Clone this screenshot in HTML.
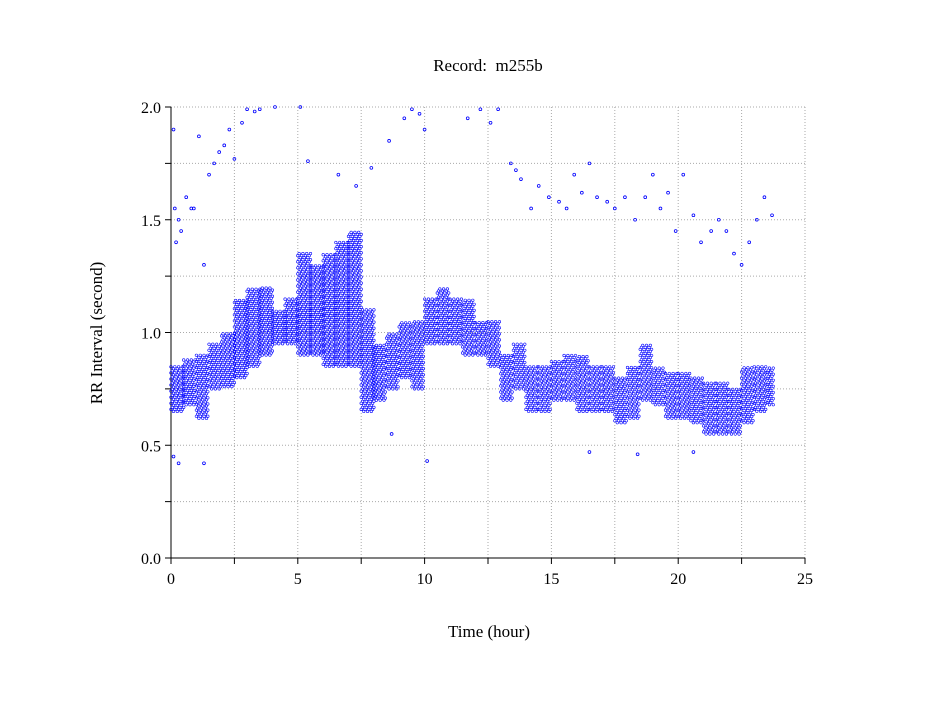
<!DOCTYPE html>
<html><head><meta charset="utf-8"><style>
html,body{margin:0;padding:0;background:#fff;}
svg text{font-family:"Liberation Serif",serif;fill:#000;}
</style></head><body>
<svg id="chart" width="949" height="697" xmlns="http://www.w3.org/2000/svg">
<rect width="949" height="697" fill="#fff"/>
<text x="488" y="71" font-size="17" text-anchor="middle">Record:&#160; m255b</text>
<text x="489" y="637" font-size="17" text-anchor="middle">Time (hour)</text>
<text x="0" y="0" font-size="17" text-anchor="middle" transform="translate(102,333) rotate(-90)">RR Interval (second)</text>
<g id="grid"></g>
<g id="axes"></g>
<path id="band" fill="none" stroke="#0000ff" stroke-width="0.6"/>
<g id="outliers"></g>
</svg>
<script>
// bins of 0.5 hour: start time, low and high RR values
const binStarts = [0,0.5,1,1.5,2,2.5,3,3.5,4,4.5,5,5.5,6,6.5,7,7.5,8,8.5,9,9.5,10,10.5,11,11.5,12,12.5,13,13.5,14,14.5,15,15.5,16,16.5,17,17.5,18,18.5,19,19.5,20,20.5,21,21.5,22,22.5,23,23.5];
const binLow  = [0.65,0.68,0.62,0.75,0.76,0.8,0.85,0.9,0.95,0.95,0.9,0.9,0.85,0.85,0.85,0.65,0.7,0.75,0.8,0.75,0.95,0.95,0.95,0.9,0.9,0.85,0.7,0.75,0.65,0.65,0.7,0.7,0.65,0.65,0.65,0.6,0.62,0.7,0.68,0.62,0.62,0.6,0.55,0.55,0.55,0.6,0.65,0.68];
const binHigh = [0.85,0.88,0.9,0.95,1.0,1.15,1.2,1.2,1.1,1.15,1.35,1.3,1.35,1.4,1.45,1.1,0.95,1.0,1.05,1.05,1.15,1.2,1.15,1.15,1.05,1.05,0.9,0.95,0.85,0.85,0.88,0.9,0.9,0.85,0.85,0.8,0.85,0.95,0.85,0.82,0.82,0.8,0.78,0.78,0.75,0.85,0.85,0.85];
const outT = [0.1,0.15,0.2,0.3,0.4,0.6,0.8,0.9,1.1,1.3,1.5,1.7,1.9,2.1,2.3,2.5,2.8,3.0,3.3,3.5,4.1,5.1,5.4,6.6,7.3,7.9,8.6,9.2,9.5,9.8,10.0,11.7,12.2,12.6,12.9,13.4,13.6,13.8,14.2,14.5,14.9,15.3,15.6,15.9,16.2,16.5,16.8,17.2,17.5,17.9,18.3,18.7,19.0,19.3,19.6,19.9,20.2,20.6,20.9,21.3,21.6,21.9,22.2,22.5,22.8,23.1,23.4,23.7,0.1,0.3,1.3,10.1,8.7,16.5,18.4,20.6];
const outV = [1.9,1.55,1.4,1.5,1.45,1.6,1.55,1.55,1.87,1.3,1.7,1.75,1.8,1.83,1.9,1.77,1.93,1.99,1.98,1.99,2.0,2.0,1.76,1.7,1.65,1.73,1.85,1.95,1.99,1.97,1.9,1.95,1.99,1.93,1.99,1.75,1.72,1.68,1.55,1.65,1.6,1.58,1.55,1.7,1.62,1.75,1.6,1.58,1.55,1.6,1.5,1.6,1.7,1.55,1.62,1.45,1.7,1.52,1.4,1.45,1.5,1.45,1.35,1.3,1.4,1.5,1.6,1.52,0.45,0.42,0.42,0.43,0.55,0.47,0.46,0.47];
const xTicks=[0,5,10,15,20,25], yTicks=[0.0,0.5,1.0,1.5,2.0];
const X0=171,X1=805,Y0=558,Y1=107;
const xs=t=>X0+(X1-X0)*t/25, ys=v=>Y0-(Y0-Y1)*v/2;
const NS="http://www.w3.org/2000/svg";
function mk(tag,attrs,parent){const e=document.createElementNS(NS,tag);for(const k in attrs)e.setAttribute(k,attrs[k]);parent.appendChild(e);return e;}
const grid=document.getElementById('grid'), axes=document.getElementById('axes');
for(let t=2.5;t<=25;t+=2.5){const l=mk('line',{x1:xs(t),x2:xs(t),y1:Y1,y2:Y0,stroke:'#aaa','stroke-dasharray':'1,2'},grid);}
for(let v=0.25;v<=2.0001;v+=0.25){const l=mk('line',{x1:X0,x2:X1,y1:ys(v),y2:ys(v),stroke:'#aaa','stroke-dasharray':'1,2'},grid);}
mk('line',{x1:X0,x2:X0,y1:Y1,y2:Y0,stroke:'#000'},axes);
mk('line',{x1:X0,x2:X1,y1:Y0,y2:Y0,stroke:'#000'},axes);
for(let t=0;t<=25;t+=2.5){mk('line',{x1:xs(t),x2:xs(t),y1:Y0,y2:Y0+6,stroke:'#000'},axes);}
for(let v=0;v<=2.0001;v+=0.25){mk('line',{x1:X0-6,x2:X0,y1:ys(v),y2:ys(v),stroke:'#000'},axes);}
xTicks.forEach(t=>{const e=mk('text',{x:xs(t),y:Y0+26,'font-size':16,'text-anchor':'middle'},axes);e.textContent=t;});
yTicks.forEach(v=>{const e=mk('text',{x:X0-10,y:ys(v)+6,'font-size':16,'text-anchor':'end'},axes);e.textContent=v.toFixed(1);});
let d='';const r=1.3;
binStarts.forEach((s,i)=>{const end=Math.min(s+0.5,23.8);let k=0;
 for(let t=s;t<end;t+=0.05){k++;const off=(k%3)*0.009;
  for(let v=binLow[i]+off;v<=binHigh[i];v+=0.027){const x=xs(t),y=ys(v);d+=`M${(x-r).toFixed(1)} ${y.toFixed(1)}a${r} ${r} 0 1 0 ${2*r} 0a${r} ${r} 0 1 0 ${-2*r} 0`;}}});
document.getElementById('band').setAttribute('d',d);
const og=document.getElementById('outliers');
outT.forEach((t,i)=>{const c=mk('circle',{cx:xs(t),cy:ys(outV[i]),r:1.4,fill:'none',stroke:'#0000ff','stroke-width':0.8},og);});
</script>
</body></html>
